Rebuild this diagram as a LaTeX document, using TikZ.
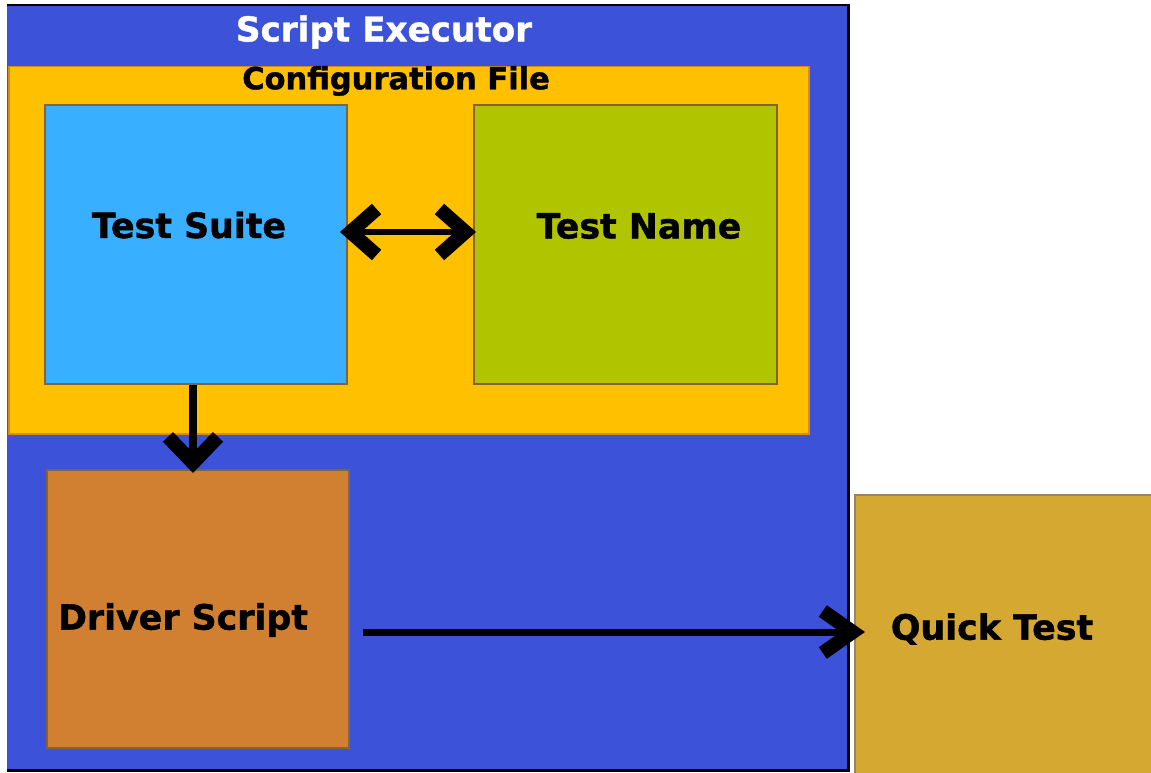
\documentclass[tikz,border=0pt]{standalone}
\usepackage{fontspec}
\setmainfont{DejaVu Sans}[BoldFeatures={FakeBold=1.2}]
\usetikzlibrary{arrows.meta}
\definecolor{execblue}{RGB}{60,82,217}
\definecolor{cfgorange}{RGB}{255,192,0}
\definecolor{suiteblue}{RGB}{56,176,255}
\definecolor{namegreen}{RGB}{177,196,0}
\definecolor{driverorange}{RGB}{208,128,48}
\definecolor{quickgold}{RGB}{213,168,50}
\definecolor{boxedge}{RGB}{130,100,60}
\definecolor{cfgedge}{RGB}{215,140,20}
\tikzset{
  box/.style={rectangle, draw=boxedge, line width=2pt, inner sep=0pt},
  lbl/.style={font=\bfseries\fontsize{34.8}{40}\selectfont, text=black, inner sep=0pt},
  chev/.tip={Straight Barb[length=26pt,width=46pt,line width=14pt]},
  conn/.style={line width=7pt, draw=black},
}
\begin{document}
\begin{tikzpicture}[x=1pt,y=-1pt]
\useasboundingbox (0,0) rectangle (1151,773);
\clip (0,0) rectangle (1151,773);
\fill[white] (0,0) rectangle (1151,773);
% outer
\node[rectangle, fill=execblue, minimum width=841pt, minimum height=765pt, anchor=north west, inner sep=0pt] (exec) at (7,5) {};
\draw[black, line width=2.5pt] (exec.north west) -- (exec.north east) -- (exec.south east) -- (exec.south west);
\node[font=\bfseries\fontsize{34.2}{40}\selectfont, text=white, inner sep=0pt] (title) at (384,32) {Script Executor};
% configuration file
\node[rectangle, fill=cfgorange, draw=cfgedge, line width=1.5pt, minimum width=800pt, minimum height=367pt, anchor=north west, inner sep=0pt] (cfg) at (8,66) {};
\node[lbl, font=\bfseries\fontsize{30.5}{35}\selectfont] (cfgt) at (396,81) {Configuration File};
% inner boxes
\node[box, fill=suiteblue, minimum width=302pt, minimum height=279pt, anchor=north west] (suite) at (44,104) {};
\node[lbl] at (189,225) {Test Suite};
\node[box, fill=namegreen, minimum width=303pt, minimum height=279pt, anchor=north west] (name) at (473,104) {};
\node[lbl] at (639,226) {Test Name};
\node[box, fill=driverorange, minimum width=302pt, minimum height=278pt, anchor=north west] (driver) at (46,469) {};
\node[lbl] at (183,620) {Driver Script};
\node[box, fill=quickgold, draw=boxedge!80!white, minimum width=310pt, minimum height=290pt, anchor=north west] (quick) at (854,494) {};
\node[lbl] at (992,629) {Quick Test};
% connectors
\coordinate (dsE) at (363,632);
\draw[conn, line width=6pt, {chev}-{chev}] ([xshift=-8pt]suite.east |- 0,232) -- ([xshift=3pt]name.west |- 0,232);
\draw[conn, line width=8pt, -{chev[width=50pt,length=26pt]}] (suite.south -| 193,0) -- ([yshift=-4pt]driver.north -| 193,0);
\draw[conn, -{chev[width=42pt,length=30pt]}] (dsE) -- ([xshift=11pt]quick.west |- dsE);
\end{tikzpicture}
\end{document}
